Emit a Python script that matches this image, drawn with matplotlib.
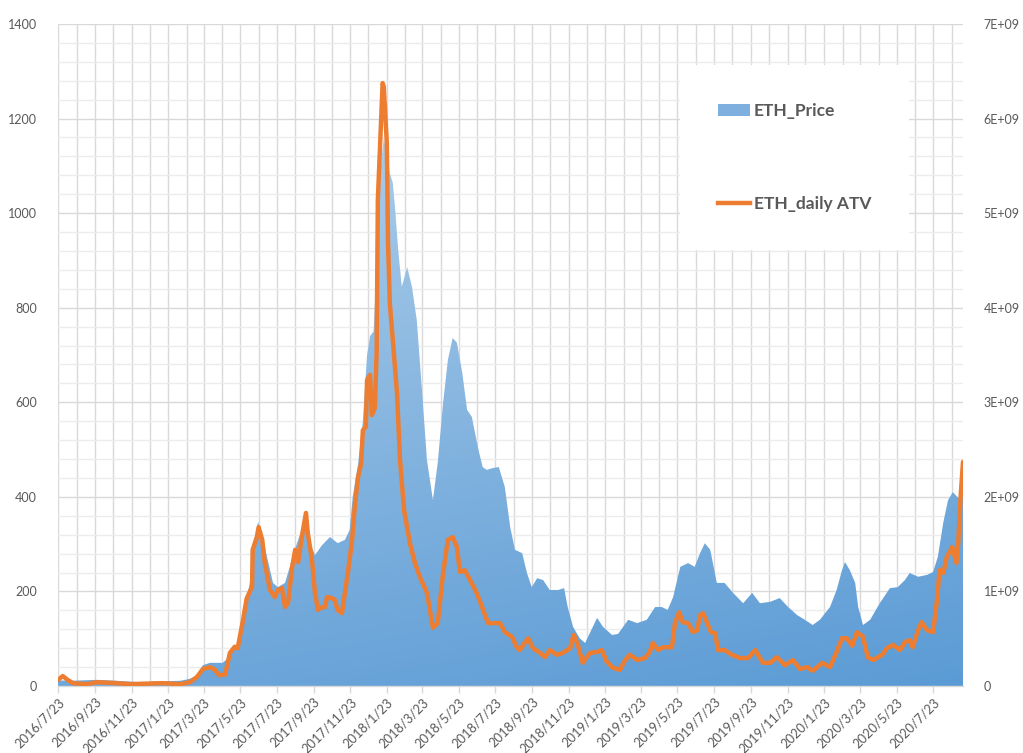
import numpy as np
import pandas as pd
import matplotlib
matplotlib.use("Agg")
import matplotlib.pyplot as plt
import matplotlib.dates as mdates
from matplotlib.patches import Patch
from matplotlib.lines import Line2D
from matplotlib.colors import to_rgb

plt.rcParams['font.family'] = ['Lato', 'DejaVu Sans']

# ETH price (USD), left axis
price_dates = [
    '2016-07-23', '2016-08-12', '2016-09-26', '2016-10-29', '2016-12-07', '2017-01-14',
    '2017-02-12', '2017-02-28', '2017-03-12', '2017-03-22', '2017-04-03', '2017-04-24',
    '2017-05-06', '2017-05-14', '2017-05-19', '2017-05-28', '2017-06-03', '2017-06-08',
    '2017-06-13', '2017-06-22', '2017-06-29', '2017-07-07', '2017-07-17', '2017-07-25',
    '2017-08-06', '2017-08-14', '2017-08-26', '2017-09-03', '2017-09-10', '2017-09-17',
    '2017-09-25', '2017-10-07', '2017-10-20', '2017-11-02', '2017-11-14', '2017-11-22',
    '2017-11-27', '2017-12-06', '2017-12-14', '2017-12-21', '2017-12-26', '2018-01-01',
    '2018-01-08', '2018-01-13', '2018-01-18', '2018-01-23', '2018-01-28', '2018-02-02',
    '2018-02-06', '2018-02-11', '2018-02-17', '2018-02-26', '2018-03-06', '2018-03-14',
    '2018-03-23', '2018-03-31', '2018-04-10', '2018-04-18', '2018-04-27', '2018-05-05',
    '2018-05-13', '2018-05-20', '2018-05-29', '2018-06-06', '2018-06-14', '2018-06-24',
    '2018-07-02', '2018-07-09', '2018-07-19', '2018-07-29', '2018-08-08', '2018-08-17',
    '2018-08-25', '2018-09-06', '2018-09-14', '2018-09-22', '2018-10-01', '2018-10-11',
    '2018-10-22', '2018-11-05', '2018-11-15', '2018-11-21', '2018-11-30', '2018-12-11',
    '2018-12-20', '2018-12-28', '2019-01-09', '2019-01-19', '2019-02-03', '2019-02-13',
    '2019-03-02', '2019-03-17', '2019-04-02', '2019-04-16', '2019-04-27', '2019-05-07',
    '2019-05-16', '2019-05-28', '2019-06-10', '2019-06-21', '2019-06-30', '2019-07-08',
    '2019-07-17', '2019-07-28', '2019-08-10', '2019-08-24', '2019-09-10', '2019-09-25',
    '2019-10-08', '2019-10-25', '2019-11-10', '2019-11-24', '2019-12-09', '2019-12-22',
    '2020-01-04', '2020-01-16', '2020-02-02', '2020-02-13', '2020-02-22', '2020-02-27',
    '2020-03-06', '2020-03-15', '2020-03-20', '2020-03-28', '2020-04-09', '2020-04-25',
    '2020-05-12', '2020-05-25', '2020-06-06', '2020-06-14', '2020-06-28', '2020-07-13',
    '2020-07-23', '2020-07-31', '2020-08-09', '2020-08-17', '2020-08-25', '2020-09-03',
    '2020-09-11',
]
price = [
    12, 11, 13, 11, 8, 10,
    11, 15, 22, 44, 49, 49,
    62, 85, 88, 140, 185, 215,
    290, 347, 320, 273, 218, 209,
    218, 252, 302, 330, 357, 302,
    277, 298, 315, 302, 309, 330,
    400, 470, 560, 700, 740, 750,
    950, 1100, 1160, 1120, 1085, 1064,
    1007, 922, 844, 886, 844, 774,
    620, 478, 393, 472, 599, 690,
    736, 726, 662, 584, 569, 505,
    463, 457, 461, 463, 421, 336,
    288, 281, 239, 209, 228, 224,
    203, 203, 207, 167, 125, 101,
    91, 112, 144, 125, 108, 110,
    140, 133, 140, 167, 167, 161,
    188, 252, 260, 252, 281, 302,
    288, 218, 218, 197, 175, 197,
    175, 178, 186, 167, 150, 140,
    129, 140, 167, 203, 245, 262,
    245, 218, 167, 129, 140, 175,
    207, 209, 224, 239, 231, 235,
    241, 273, 345, 393, 410, 398,
    400,
]

# ETH daily ATV (billions), right axis
atv_dates = [
    '2016-07-23', '2016-07-31', '2016-08-08', '2016-08-17', '2016-09-09', '2016-09-26',
    '2016-10-29', '2016-11-20', '2017-01-14', '2017-02-12', '2017-02-28', '2017-03-12',
    '2017-03-22', '2017-04-03', '2017-04-11', '2017-04-18', '2017-04-28', '2017-05-06',
    '2017-05-14', '2017-05-19', '2017-05-28', '2017-06-03', '2017-06-12', '2017-06-13',
    '2017-06-20', '2017-06-23', '2017-06-29', '2017-07-03', '2017-07-12', '2017-07-20',
    '2017-07-25', '2017-08-01', '2017-08-06', '2017-08-11', '2017-08-18', '2017-08-23',
    '2017-08-28', '2017-09-03', '2017-09-10', '2017-09-13', '2017-09-20', '2017-09-25',
    '2017-09-30', '2017-10-07', '2017-10-12', '2017-10-15', '2017-10-23', '2017-10-28',
    '2017-11-02', '2017-11-09', '2017-11-14', '2017-11-19', '2017-11-26', '2017-12-01',
    '2017-12-06', '2017-12-11', '2017-12-14', '2017-12-19', '2017-12-21', '2017-12-26',
    '2017-12-29', '2018-01-03', '2018-01-06', '2018-01-08', '2018-01-13', '2018-01-16',
    '2018-01-18', '2018-01-23', '2018-01-25', '2018-01-28', '2018-02-02', '2018-02-09',
    '2018-02-14', '2018-02-21', '2018-03-03', '2018-03-11', '2018-03-19', '2018-03-31',
    '2018-04-10', '2018-04-18', '2018-04-27', '2018-05-05', '2018-05-13', '2018-05-20',
    '2018-05-25', '2018-06-02', '2018-06-11', '2018-06-22', '2018-07-01', '2018-07-11',
    '2018-07-22', '2018-07-31', '2018-08-08', '2018-08-20', '2018-08-28', '2018-09-02',
    '2018-09-11', '2018-09-16', '2018-09-24', '2018-10-06', '2018-10-14', '2018-10-22',
    '2018-11-03', '2018-11-13', '2018-11-25', '2018-12-01', '2018-12-08', '2018-12-16',
    '2018-12-28', '2019-01-09', '2019-01-17', '2019-01-25', '2019-02-04', '2019-02-16',
    '2019-02-25', '2019-03-05', '2019-03-17', '2019-03-30', '2019-04-07', '2019-04-12',
    '2019-04-21', '2019-04-29', '2019-05-14', '2019-05-19', '2019-05-26', '2019-06-01',
    '2019-06-10', '2019-06-18', '2019-06-25', '2019-06-30', '2019-07-05', '2019-07-12',
    '2019-07-18', '2019-07-25', '2019-07-30', '2019-08-10', '2019-08-22', '2019-09-05',
    '2019-09-18', '2019-09-30', '2019-10-13', '2019-10-25', '2019-11-05', '2019-11-19',
    '2019-12-02', '2019-12-14', '2019-12-26', '2020-01-04', '2020-01-20', '2020-02-02',
    '2020-02-13', '2020-02-22', '2020-03-01', '2020-03-10', '2020-03-18', '2020-03-28',
    '2020-04-05', '2020-04-14', '2020-04-29', '2020-05-07', '2020-05-17', '2020-05-29',
    '2020-06-06', '2020-06-14', '2020-06-19', '2020-06-28', '2020-07-04', '2020-07-13',
    '2020-07-23', '2020-07-29', '2020-08-03', '2020-08-09', '2020-08-15', '2020-08-24',
    '2020-08-31', '2020-09-03', '2020-09-07', '2020-09-11',
]
atv_bn = [
    0.065, 0.105, 0.065, 0.03, 0.02, 0.04,
    0.03, 0.02, 0.03, 0.02, 0.04, 0.095,
    0.18, 0.20, 0.17, 0.115, 0.12, 0.35,
    0.415, 0.40, 0.70, 0.925, 1.05, 1.44,
    1.575, 1.68, 1.545, 1.31, 1.015, 0.94,
    1.015, 1.035, 0.835, 0.875, 1.26, 1.44,
    1.31, 1.575, 1.83, 1.62, 1.335, 0.985,
    0.805, 0.835, 0.835, 0.94, 0.93, 0.91,
    0.805, 0.77, 0.985, 1.195, 1.545, 1.935,
    2.21, 2.35, 2.705, 2.74, 3.235, 3.29,
    2.865, 2.94, 3.52, 5.14, 5.91, 6.375,
    6.335, 5.74, 4.685, 4.05, 3.66, 3.10,
    2.39, 1.85, 1.50, 1.30, 1.155, 0.985,
    0.615, 0.665, 1.195, 1.545, 1.575, 1.47,
    1.205, 1.225, 1.12, 0.985, 0.835, 0.665,
    0.665, 0.665, 0.57, 0.52, 0.41, 0.38,
    0.465, 0.505, 0.40, 0.35, 0.305, 0.38,
    0.33, 0.35, 0.40, 0.54, 0.435, 0.245,
    0.35, 0.36, 0.38, 0.26, 0.195, 0.17,
    0.275, 0.33, 0.275, 0.295, 0.36, 0.455,
    0.38, 0.41, 0.41, 0.665, 0.78, 0.675,
    0.665, 0.57, 0.59, 0.75, 0.77, 0.665,
    0.57, 0.56, 0.38, 0.38, 0.33, 0.295,
    0.295, 0.38, 0.245, 0.245, 0.305, 0.22,
    0.275, 0.18, 0.20, 0.16, 0.245, 0.20,
    0.36, 0.505, 0.505, 0.425, 0.57, 0.52,
    0.305, 0.275, 0.33, 0.40, 0.435, 0.38,
    0.465, 0.485, 0.41, 0.59, 0.675, 0.59,
    0.57, 0.875, 1.225, 1.195, 1.365, 1.47,
    1.30, 1.51, 2.00, 2.37,
]

start, end = pd.Timestamp('2016-07-23'), pd.Timestamp('2020-09-11')
px = pd.to_datetime(price_dates)
ax_dates = pd.to_datetime(atv_dates)
atv = np.array(atv_bn) * 1e9

grey_txt = '#595959'
grid_major = '#D9D9D9'
grid_minor = '#ECECEC'
orange = '#ED7D31'

fig = plt.figure(figsize=(10.23, 7.53), dpi=100)
ax = fig.add_axes([58 / 1023, 1 - 686 / 753, 905 / 1023, 662 / 753])

# area with diagonal gradient, clipped to the price polygon
poly = ax.fill_between(px, price, 0, facecolor='none', edgecolor='none')
x0, x1 = mdates.date2num(start), mdates.date2num(end)
ny, nx = 200, 200
yy, xx = np.mgrid[1:0:ny * 1j, 0:1:nx * 1j]
a = np.clip(0.8 * yy + 0.2 * (1 - xx), 0, 1)[..., None]
c_lo = np.array(to_rgb('#5B9BD5'))
c_hi = np.array(to_rgb('#BDD7EE'))
img = ax.imshow(c_lo * (1 - a) + c_hi * a, extent=[x0, x1, 0, 1400],
                aspect='auto', origin='upper', zorder=2, interpolation='bilinear')
img.set_clip_path(poly.get_paths()[0], transform=ax.transData)

ax.set_xlim(start, end)
ax.set_ylim(0, 1400)
ax.set_yticks(np.arange(0, 1401, 200))
ax.set_yticks(np.arange(0, 1401, 40), minor=True)
ax.xaxis.set_major_locator(mdates.MonthLocator(bymonth=[1, 3, 5, 7, 9, 11], bymonthday=23))
ax.xaxis.set_minor_locator(mdates.MonthLocator(bymonthday=23))
ax.xaxis.set_major_formatter(
    plt.FuncFormatter(lambda v, p: '{0.year}/{0.month}/{0.day}'.format(mdates.num2date(v))))

ax.set_axisbelow(True)
ax.grid(which='major', axis='both', color=grid_major, lw=1.0, zorder=0)
ax.grid(which='minor', axis='x', color=grid_major, lw=1.0, zorder=0)
ax.grid(which='minor', axis='y', color=grid_minor, lw=1.0, zorder=0)

for s in ['top', 'left', 'right']:
    ax.spines[s].set_visible(False)
ax.spines['bottom'].set_color(grid_major)
ax.spines['bottom'].set_linewidth(1.0)
ax.spines['bottom'].set_zorder(3)

ax.tick_params(axis='y', which='both', length=0, pad=15, labelsize=9, labelcolor=grey_txt)
ax.tick_params(axis='x', which='major', length=5, color=grid_major, width=1,
               labelsize=9.3, labelcolor=grey_txt, pad=2)
ax.tick_params(axis='x', which='minor', length=0)
for lab in ax.get_xticklabels():
    lab.set_rotation(45)
    lab.set_ha('right')
    lab.set_rotation_mode('anchor')

# daily ATV on the secondary axis
ax2 = ax.twinx()
ax2.plot(ax_dates, atv, color=orange, lw=3.2, solid_joinstyle='round',
         solid_capstyle='round', zorder=3)
ax2.set_ylim(0, 7e9)
ax2.set_yticks(np.arange(0, 7.01e9, 1e9))
ax2.yaxis.set_major_formatter(
    plt.FuncFormatter(lambda v, p: '0' if v == 0 else f'{v / 1e9:.0f}E+09'))
ax2.tick_params(axis='y', length=0, pad=15, labelsize=9, labelcolor=grey_txt)
for s in ax2.spines.values():
    s.set_visible(False)

handles = [Patch(facecolor='#7FAFDF', edgecolor='none'),
           Line2D([], [], color=orange, lw=3.2)]
leg = ax2.legend(handles, ['ETH_Price', 'ETH_daily ATV'],
                 loc='upper left', bbox_to_anchor=(680 / 1023, 1 - 65 / 753),
                 bbox_transform=fig.transFigure, borderaxespad=0,
                 prop={'weight': 'bold', 'size': 12.5}, labelcolor=grey_txt,
                 borderpad=2.2, labelspacing=4.4, handlelength=1.85, handletextpad=0.2,
                 frameon=True, fancybox=False, framealpha=1)
leg.get_frame().set_facecolor('white')
leg.get_frame().set_edgecolor('none')
leg.set_zorder(10)

fig.savefig('out.png', dpi=100, facecolor='white')
